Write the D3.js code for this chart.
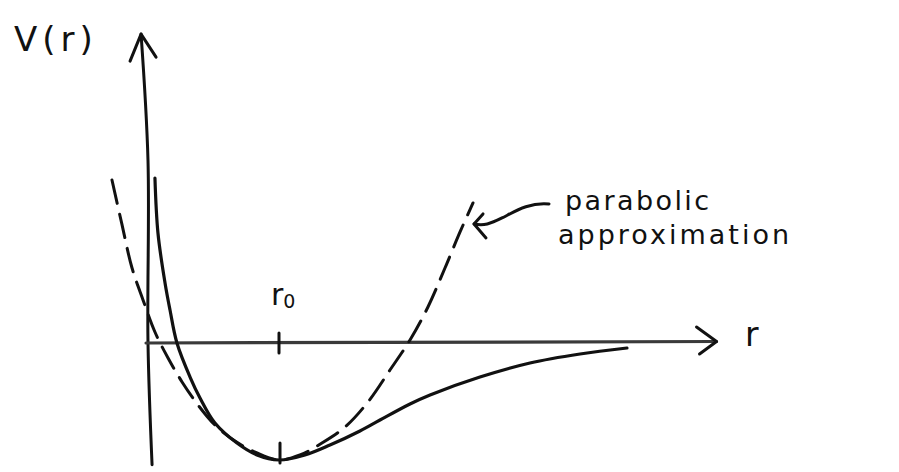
<!DOCTYPE html>
<html>
<head>
<meta charset="utf-8">
<script src="https://cdn.jsdelivr.net/npm/d3@7"></script>
<style>
  html, body { margin: 0; padding: 0; background: #fff; }
  svg { display: block; }
  text { font-family: "DejaVu Sans", "Open Sans", sans-serif; fill: #111; }
</style>
</head>
<body>
<svg id="chart" width="899" height="472"></svg>
<script>
// Interatomic potential V(r) (in units of the well depth, r in units of r0)
const potentialR = [0.053, 0.076, 0.13, 0.168, 0.221, 0.321, 0.397, 0.511, 0.679, 0.832, 1.0,
                    1.198, 1.389, 1.618, 1.771, 2.0, 2.153, 2.534, 2.916, 3.298, 3.656];
const potentialV = [1.41, 0.94, 0.513, 0.282, 0.0, -0.291, -0.47, -0.684, -0.855, -0.957, -1.0,
                    -0.957, -0.872, -0.752, -0.658, -0.521, -0.444, -0.291, -0.171, -0.094, -0.043];

// Harmonic (parabolic) approximation around the minimum
const parabolaR = [-0.275, -0.198, -0.122, -0.038, 0.053, 0.153, 0.26, 0.382, 0.511, 0.664, 0.832, 1.0,
                   1.16, 1.328, 1.504, 1.679, 1.847, 2.0, 2.137, 2.267, 2.382, 2.481];
const parabolaV = [1.393, 1.009, 0.641, 0.368, 0.094, -0.128, -0.333, -0.53, -0.701, -0.838, -0.94, -1.0,
                   -0.957, -0.855, -0.718, -0.504, -0.231, 0.026, 0.308, 0.641, 0.949, 1.197];

// Axes extents and marked positions
const yAxisR = [0.031, 0.0, 0.0, -0.053];
const yAxisV = [-1.04, 0.0, 1.56, 2.64];
const xAxisR = [-0.015, 4.34];
const r0 = 1.0;
const wellDepth = -1.0;

const yAxisLabel = "V(r)";
const xAxisLabel = "r";
const r0Label = ["r", "0"];
const annotationLines = ["parabolic", "approximation"];

const svg = d3.select("#chart");

const x = d3.scaleLinear().domain([0, 1]).range([148, 279]);
const y = d3.scaleLinear().domain([0, -1]).range([343, 460]);

const toPts = (rs, vs) => rs.map((r, i) => [r, vs[i]]);
const smooth = d3.line().x(d => x(d[0])).y(d => y(d[1])).curve(d3.curveCatmullRom.alpha(0.5));

const ink = "#111";
const axisInk = "#3a3a3a";

// y axis with arrowhead
const yPts = toPts(yAxisR, yAxisV);
svg.append("path").attr("d", smooth(yPts))
  .attr("fill", "none").attr("stroke", ink).attr("stroke-width", 3).attr("stroke-linecap", "round");
const yTip = [x(yPts[3][0]), y(yPts[3][1])];
svg.append("path")
  .attr("d", `M${yTip[0] - 11},${yTip[1] + 27} L${yTip[0]},${yTip[1]} L${yTip[0] + 15},${yTip[1] + 23}`)
  .attr("fill", "none").attr("stroke", ink).attr("stroke-width", 3)
  .attr("stroke-linecap", "round").attr("stroke-linejoin", "round");

// x axis with arrowhead
const x0 = x(xAxisR[0]), x1 = x(xAxisR[1]), yz = y(0);
svg.append("line").attr("x1", x0).attr("y1", yz).attr("x2", x1).attr("y2", yz - 1.5)
  .attr("stroke", axisInk).attr("stroke-width", 3.2).attr("stroke-linecap", "round");
svg.append("path")
  .attr("d", `M${x1 - 20},${yz - 16} L${x1},${yz - 1.5} L${x1 - 17},${yz + 11}`)
  .attr("fill", "none").attr("stroke", ink).attr("stroke-width", 3)
  .attr("stroke-linecap", "round").attr("stroke-linejoin", "round");

// r0 tick on the axis and at the bottom of the well
svg.append("line").attr("x1", x(r0)).attr("x2", x(r0)).attr("y1", yz - 10).attr("y2", yz + 10)
  .attr("stroke", ink).attr("stroke-width", 3).attr("stroke-linecap", "round");
svg.append("line").attr("x1", x(r0) + 1).attr("x2", x(r0) + 1).attr("y1", y(wellDepth) - 17).attr("y2", y(wellDepth) + 3)
  .attr("stroke", ink).attr("stroke-width", 3).attr("stroke-linecap", "round");

// parabolic approximation (dashed)
svg.append("path").attr("d", smooth(toPts(parabolaR, parabolaV)))
  .attr("fill", "none").attr("stroke", ink).attr("stroke-width", 3)
  .attr("stroke-dasharray", "24 11").attr("stroke-linecap", "round");

// potential curve
svg.append("path").attr("d", smooth(toPts(potentialR, potentialV)))
  .attr("fill", "none").attr("stroke", ink).attr("stroke-width", 3.2).attr("stroke-linecap", "round");

// labels
svg.append("text").attr("x", 14).attr("y", 51).attr("font-size", 34)
  .attr("letter-spacing", 5).text(yAxisLabel);
svg.append("text").attr("x", 745).attr("y", 346).attr("font-size", 33).text(xAxisLabel);

const r0Text = svg.append("text").attr("x", x(r0) - 8).attr("y", 305).attr("font-size", 30);
r0Text.append("tspan").text(r0Label[0]);
r0Text.append("tspan").attr("dy", 3).attr("font-size", 19).text(r0Label[1]);

// annotation for the parabola
svg.append("text").attr("x", 565).attr("y", 210).attr("font-size", 27)
  .attr("letter-spacing", 2.4).text(annotationLines[0]);
svg.append("text").attr("x", 558).attr("y", 244).attr("font-size", 27)
  .attr("letter-spacing", 3).text(annotationLines[1]);

const tipR = parabolaR[parabolaR.length - 1], tipV = parabolaV[parabolaV.length - 1];
const ax = x(tipR) + 1, ay = y(tipV) + 21;
svg.append("path")
  .attr("d", `M${ax + 75},${ay - 20} C${ax + 55},${ay - 22} ${ax + 40},${ay - 12} ${ax + 28},${ay - 6} S${ax + 10},${ay + 2} ${ax},${ay}`)
  .attr("fill", "none").attr("stroke", ink).attr("stroke-width", 3).attr("stroke-linecap", "round");
svg.append("path")
  .attr("d", `M${ax + 9},${ay - 10} L${ax},${ay} L${ax + 12},${ay + 14}`)
  .attr("fill", "none").attr("stroke", ink).attr("stroke-width", 3)
  .attr("stroke-linecap", "round").attr("stroke-linejoin", "round");
</script>
</body>
</html>
